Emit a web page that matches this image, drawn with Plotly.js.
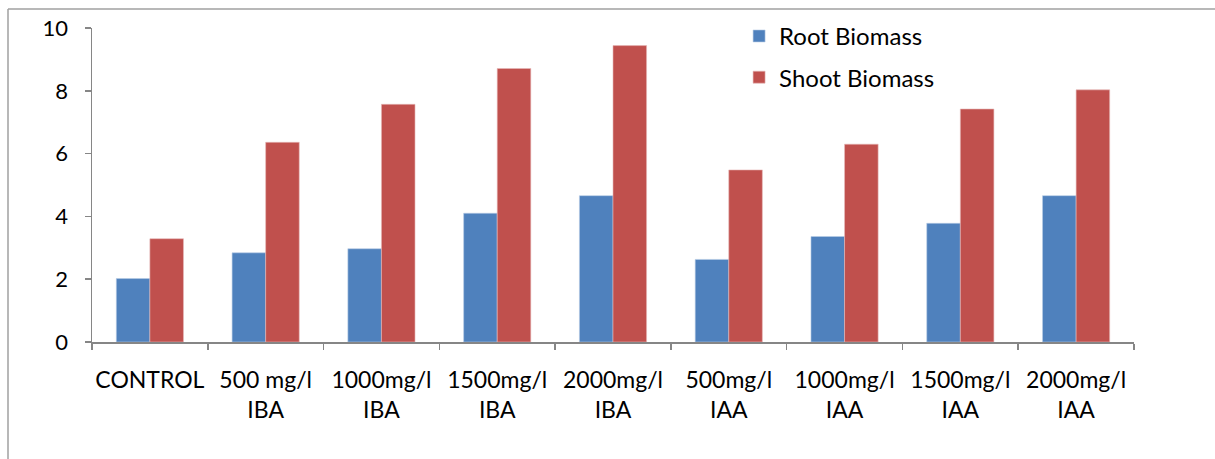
<!DOCTYPE html>
<html>
<head>
<meta charset="utf-8">
<script src="https://cdn.plot.ly/plotly-3.0.1.min.js"></script>
<style>html,body{margin:0;padding:0;background:#fff;}#chart{width:1215px;height:459px;}</style>
</head>
<body>
<div id="chart"></div>
<script>
const categories = ["CONTROL", "500 mg/l<br>IBA", "1000mg/l<br>IBA", "1500mg/l<br>IBA", "2000mg/l<br>IBA",
                    "500mg/l<br>IAA", "1000mg/l<br>IAA", "1500mg/l<br>IAA", "2000mg/l<br>IAA"];
const rootBiomass  = [2.02, 2.84, 2.97, 4.10, 4.66, 2.63, 3.36, 3.78, 4.66];
const shootBiomass = [3.29, 6.36, 7.57, 8.71, 9.44, 5.48, 6.30, 7.42, 8.03];
const yTicks = [0, 2, 4, 6, 8, 10];

const FONT = "Lato, 'Open Sans', sans-serif";

const traces = [
  {type: 'bar', name: 'Root Biomass', x: categories, y: rootBiomass, legendgroup: 'a',
   marker: {color: '#4F81BD', line: {color: '#B9CDE5', width: 0.6}}},
  {type: 'bar', name: 'Shoot Biomass', x: categories, y: shootBiomass, legendgroup: 'b',
   marker: {color: '#C0504D', line: {color: '#E6B9B8', width: 0.6}}}
];

const layout = {
  width: 1215, height: 459,
  margin: {l: 92, r: 81, t: 28, b: 117, autoexpand: false},
  paper_bgcolor: '#fff', plot_bgcolor: '#fff',
  barmode: 'group', bargap: 0.42, bargroupgap: 0,
  font: {family: FONT, size: 22, color: '#000'},
  showlegend: true,
  legend: {x: 0.621, y: 1.045, xanchor: 'left', yanchor: 'top',
           font: {family: FONT, size: 24, color: '#000'}, traceorder: 'grouped',
           bgcolor: 'rgba(0,0,0,0)', tracegroupgap: 7, itemwidth: 30},
  xaxis: {type: 'category', showgrid: false, zeroline: false, automargin: false,
          showline: true, linecolor: '#868686', linewidth: 1.5, tickangle: 0,
          ticks: 'outside', tickson: 'boundaries', ticklen: 6, tickcolor: '#868686', tickwidth: 1.5,
          tickfont: {family: FONT, size: 23, color: '#000'}, ticklabelstandoff: 17,
          fixedrange: true},
  yaxis: {range: [0, 10], tickvals: yTicks, ticktext: yTicks.map(String), automargin: false,
          showgrid: false, zeroline: false,
          showline: true, linecolor: '#868686', linewidth: 1.5,
          ticks: 'outside', ticklen: 6, tickcolor: '#868686', tickwidth: 1.5,
          tickfont: {family: FONT, size: 22, color: '#000'}, ticklabelstandoff: 12,
          fixedrange: true},
  shapes: [
    {type: 'line', xref: 'paper', yref: 'paper',
     x0: (8 - 92) / 1042, x1: (8 - 92) / 1042, y0: -0.6, y1: 1 + (28 - 9) / 314,
     line: {color: '#A0A0A0', width: 1.5}, layer: 'below'},
    {type: 'line', xref: 'paper', yref: 'paper',
     x0: (8 - 92) / 1042, x1: 1.3, y0: 1 + (28 - 9) / 314, y1: 1 + (28 - 9) / 314,
     line: {color: '#A0A0A0', width: 1.5}, layer: 'below'}
  ]
};

Plotly.newPlot('chart', traces, layout, {displayModeBar: false, staticPlot: true});
</script>
</body>
</html>
